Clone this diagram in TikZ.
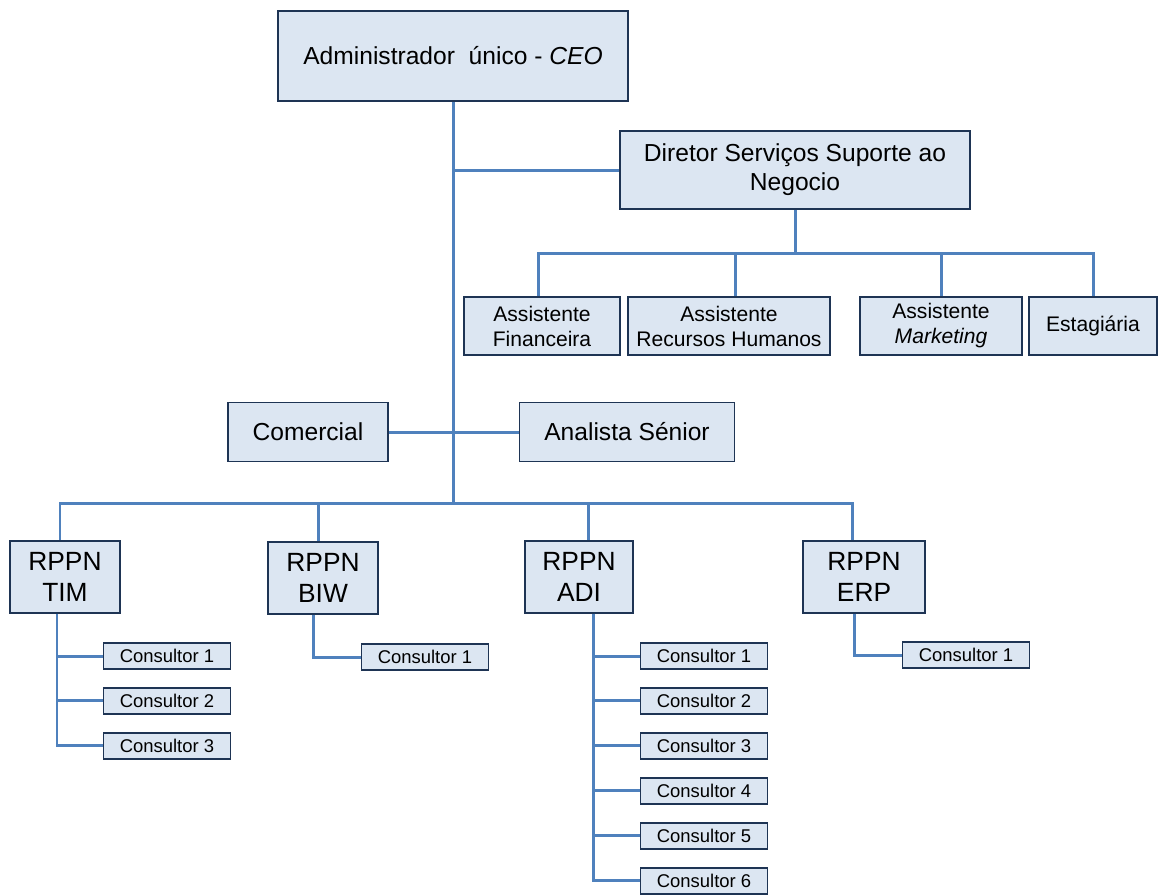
\documentclass[tikz,border=0pt]{standalone}
\usepackage{fontspec}
\setmainfont{Liberation Sans}
\usetikzlibrary{positioning}
\definecolor{LineBlue}{RGB}{79,129,189}
\definecolor{BoxBlue}{RGB}{220,230,242}
\definecolor{BoxEdge}{RGB}{30,52,84}
\tikzset{
  post/.style={draw=BoxEdge,fill=BoxBlue,line width=1.1pt,inner sep=0pt,
    align=center,font=\fontsize{14}{16.5}\selectfont},
  assist/.style={post,minimum height=1.16cm,
    font=\fontsize{12}{14.2}\selectfont},
  unit/.style={post,minimum height=1.44cm,
    font=\fontsize{15}{17.5}\selectfont},
  consult/.style={post,minimum width=2.54cm,minimum height=0.52cm,
    font=\fontsize{10.5}{12}\selectfont},
  link/.style={draw=LineBlue,line width=1.7pt}
}

\begin{document}
\begin{tikzpicture}[x=0.02cm,y=-0.02cm,node distance=0.34cm]
\useasboundingbox (0,0) rectangle (1158,894);

% top of the chart
\node[post,minimum width=7cm,minimum height=1.8cm] (ceo) at (453,56)
  {Administrador~ único - \textit{CEO}};
\node[post,minimum width=7cm,minimum height=1.56cm] (dir) at (795,170)
  {Diretor Serviços Suporte ao\\Negocio};

\node[assist,minimum width=3.12cm] (fin) at (542,326) {Assistente\\Financeira};
\node[assist,minimum width=4.04cm] (rh) at (729,326) {Assistente\\Recursos Humanos};
\node[assist,minimum width=3.24cm] (mkt) at (941,326) {Assistente\\\textit{Marketing}};
\node[assist,minimum width=2.56cm] (est) at (1093,326) {Estagiária};

\node[post,minimum width=3.2cm,minimum height=1.18cm] (com) at (308,432) {Comercial};
\node[post,minimum width=4.3cm,minimum height=1.18cm] (ana) at (627,432) {Analista Sénior};

% units
\node[unit,minimum width=2.2cm] (tim) at (65,577) {RPPN\\TIM};
\node[unit,minimum width=2.2cm] (biw) at (323,578) {RPPN\\BIW};
\node[unit,minimum width=2.16cm] (adi) at (579,577) {RPPN\\ADI};
\node[unit,minimum width=2.44cm] (erp) at (864,577) {RPPN\\ERP};

\node[consult] (timc1) at (167,656) {Consultor 1};
\node[consult,below=of timc1] (timc2) {Consultor 2};
\node[consult,below=of timc2] (timc3) {Consultor 3};

\node[consult] (biwc1) at (425,657) {Consultor 1};

\node[consult] (adic1) at (704,656) {Consultor 1};
\node[consult,below=of adic1] (adic2) {Consultor 2};
\node[consult,below=of adic2] (adic3) {Consultor 3};
\node[consult,below=of adic3] (adic4) {Consultor 4};
\node[consult,below=of adic4] (adic5) {Consultor 5};
\node[consult,below=of adic5] (adic6) {Consultor 6};

\node[consult] (erpc1) at (966,655) {Consultor 1};

% connectors
\coordinate (hub) at (453,503);
\coordinate (abus) at (795,253);
\draw[link] (ceo.south) -- (hub);
\draw[link] (ceo.south |- dir.west) -- (dir.west);
\draw[link] (com.east) -- (ceo.south |- com.east);
\draw[link] (ceo.south |- ana.west) -- (ana.west);

\draw[link] (dir.south) -- (abus);
\draw[link] (abus) -| ([xshift=-0.08cm]fin.north);
\draw[link] (abus) -| ([xshift=0.12cm]rh.north);
\draw[link] (abus) -| (mkt.north);
\draw[link] (abus) -| (est.north);

\draw[link] (hub) -| ([xshift=-0.1cm]tim.north);
\draw[link] (hub) -| ([xshift=-0.1cm]biw.north);
\draw[link] (hub) -| ([xshift=0.18cm]adi.north);
\draw[link] (hub) -| ([xshift=-0.24cm]erp.north);

\draw[link] ([xshift=-0.16cm]tim.south) |- (timc1.west);
\draw[link] ([xshift=-0.16cm]tim.south) |- (timc2.west);
\draw[link] ([xshift=-0.16cm]tim.south) |- (timc3.west);
\draw[link] ([xshift=-0.2cm]biw.south) |- (biwc1.west);
\draw[link] ([xshift=0.28cm]adi.south) |- (adic1.west);
\draw[link] ([xshift=0.28cm]adi.south) |- (adic2.west);
\draw[link] ([xshift=0.28cm]adi.south) |- (adic3.west);
\draw[link] ([xshift=0.28cm]adi.south) |- (adic4.west);
\draw[link] ([xshift=0.28cm]adi.south) |- (adic5.west);
\draw[link] ([xshift=0.28cm]adi.south) |- (adic6.west);
\draw[link] ([xshift=-0.2cm]erp.south) |- (erpc1.west);

\end{tikzpicture}
\end{document}
